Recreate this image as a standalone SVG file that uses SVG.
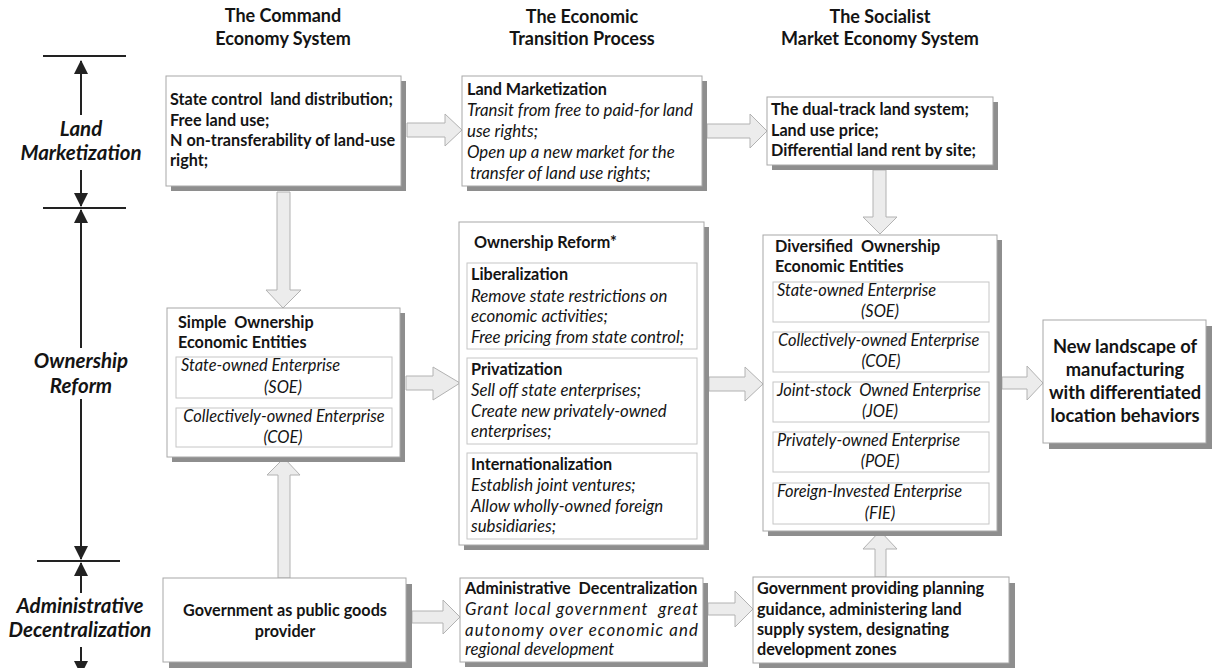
<svg xmlns="http://www.w3.org/2000/svg" width="1215" height="668" viewBox="0 0 1215 668">
<defs>
<style>
text{font-family:Lato,"Liberation Sans",sans-serif;fill:#141414}
.h{font-weight:700;font-size:18px;text-anchor:middle}
.b{font-weight:700;font-size:16.2px}
.i{font-style:italic;font-weight:400;font-size:16.8px}
.s{font-size:16.4px}
.ax{font-weight:700;font-style:italic;font-size:20.5px;text-anchor:middle}
.nl{font-weight:700;font-size:18.3px;text-anchor:middle}
.m{text-anchor:middle}
.shadow{fill:#8e8e8e}
.box{fill:#fff;stroke:#a8a8a8;stroke-width:1}
.inner{fill:#fff;stroke:#c6c6c6;stroke-width:1}
.flow{fill:#ececec;stroke:#b2b2b2;stroke-width:1}
.axl{stroke:#222;stroke-width:2;fill:none}
</style>
<marker id="ah" markerUnits="userSpaceOnUse" markerWidth="14" markerHeight="14" refX="13" refY="7" orient="auto">
<path d="M0,0 L14,7 L0,14 z" fill="#222"/>
</marker>
</defs>
<rect width="1215" height="668" fill="#fff"/>

<g id="headers">
<text class="h" x="283" y="22">The Command</text>
<text class="h" x="283" y="45">Economy System</text>
<text class="h" x="582" y="23">The Economic</text>
<text class="h" x="582" y="45">Transition Process</text>
<text class="h" x="880" y="23">The Socialist</text>
<text class="h" x="880" y="45">Market Economy System</text>
</g>

<g id="axis">
<line class="axl" x1="43" y1="56" x2="126" y2="56"/>
<line class="axl" x1="81" y1="115" x2="81" y2="61" marker-end="url(#ah)"/>
<text class="ax" x="81" y="136">Land</text>
<text class="ax" x="81" y="160">Marketization</text>
<line class="axl" x1="81" y1="170" x2="81" y2="206" marker-end="url(#ah)"/>
<line class="axl" x1="43" y1="208" x2="126" y2="208"/>
<line class="axl" x1="81" y1="348" x2="81" y2="210" marker-end="url(#ah)"/>
<text class="ax" x="81" y="368">Ownership</text>
<text class="ax" x="81" y="393">Reform</text>
<line class="axl" x1="81" y1="399" x2="81" y2="559" marker-end="url(#ah)"/>
<line class="axl" x1="37" y1="561" x2="120" y2="561"/>
<line class="axl" x1="81" y1="593" x2="81" y2="563" marker-end="url(#ah)"/>
<text class="ax" x="80" y="613">Administrative</text>
<text class="ax" x="80" y="637">Decentralization</text>
<line class="axl" x1="81" y1="647" x2="81" y2="674" marker-end="url(#ah)"/>
</g>

<g id="connectors">
<polygon class="flow" points="407,123 445,123 445,114 462,130 445,146 445,137 407,137"/>
<polygon class="flow" points="707,124 750,124 750,114 767,131 750,148 750,138 707,138"/>
<polygon class="flow" points="873,170 886,170 886,217 897,217 880,234 863,217 873,217"/>
<polygon class="flow" points="277,192 290,192 290,290 301,290 283,308 266,290 277,290"/>
<polygon class="flow" points="406,376 433,376 433,367 460,383 433,400 433,390 406,390"/>
<polygon class="flow" points="709,377 745,377 745,367 763,384 745,401 745,391 709,391"/>
<polygon class="flow" points="1002,377 1027,377 1027,366 1043,383 1027,400 1027,389 1002,389"/>
<polygon class="flow" points="278,578 290,578 290,475 300,475 284,458 267,475 278,475"/>
<polygon class="flow" points="412,611 443,611 443,600 460,617 443,634 443,623 412,623"/>
<polygon class="flow" points="708,603 735,603 735,591 753,609 735,627 735,615 708,615"/>
<polygon class="flow" points="875,577 886,577 886,549 897,549 880,531 863,549 875,549"/>
</g>

<g id="command-land">
<rect class="shadow" x="171" y="81" width="235" height="110"/>
<rect class="box" x="166" y="76" width="235" height="110"/>
<text class="b" x="170" y="105" xml:space="preserve">State control  land distribution;</text>
<text class="b" x="170" y="126">Free land use;</text>
<text class="b" x="170" y="146">N on-transferability of land-use</text>
<text class="b" x="170" y="166">right;</text>
</g>

<g id="transition-land">
<rect class="shadow" x="467" y="81" width="240" height="110"/>
<rect class="box" x="462" y="76" width="240" height="110"/>
<text class="b" x="467" y="95">Land Marketization</text>
<text class="i" x="467" y="116">Transit from free to paid-for land</text>
<text class="i" x="467" y="137">use rights;</text>
<text class="i" x="467" y="158">Open up a new market for the</text>
<text class="i" x="470" y="179">transfer of land use rights;</text>
</g>

<g id="market-land">
<rect class="shadow" x="772" y="102" width="226" height="68"/>
<rect class="box" x="767" y="97" width="226" height="68"/>
<text class="b" x="771" y="115">The dual-track land system;</text>
<text class="b" x="771" y="136">Land use price;</text>
<text class="b" x="771" y="156">Differential land rent by site;</text>
</g>

<g id="simple-ownership">
<rect class="shadow" x="172" y="313" width="233" height="149"/>
<rect class="box" x="167" y="308" width="233" height="149"/>
<text class="b" x="178" y="328" xml:space="preserve">Simple  Ownership</text>
<text class="b" x="178" y="348">Economic Entities</text>
<rect class="inner" x="176" y="357" width="216" height="41"/>
<text class="i s" x="181" y="371">State-owned Enterprise</text>
<text class="i s m" x="283" y="393">(SOE)</text>
<rect class="inner" x="176" y="408" width="216" height="39"/>
<text class="i s m" x="284" y="422">Collectively-owned Enterprise</text>
<text class="i s m" x="283" y="443">(COE)</text>
</g>

<g id="ownership-reform">
<rect class="shadow" x="464" y="227" width="245" height="323"/>
<rect class="box" x="459" y="222" width="245" height="323"/>
<text class="b" x="474" y="248">Ownership Reform*</text>
<rect class="inner" x="467" y="263" width="230" height="86"/>
<text class="b" x="471" y="280">Liberalization</text>
<text class="i" x="471" y="302">Remove state restrictions on</text>
<text class="i" x="471" y="322">economic activities;</text>
<text class="i" x="471" y="343">Free pricing from state control;</text>
<rect class="inner" x="467" y="358" width="230" height="86"/>
<text class="b" x="471" y="375">Privatization</text>
<text class="i" x="471" y="396">Sell off state enterprises;</text>
<text class="i" x="471" y="417">Create new privately-owned</text>
<text class="i" x="471" y="437">enterprises;</text>
<rect class="inner" x="467" y="453" width="230" height="86"/>
<text class="b" x="471" y="470">Internationalization</text>
<text class="i" x="471" y="491">Establish joint ventures;</text>
<text class="i" x="471" y="512">Allow wholly-owned foreign</text>
<text class="i" x="471" y="532">subsidiaries;</text>
</g>

<g id="diversified-ownership">
<rect class="shadow" x="768" y="240" width="234" height="296"/>
<rect class="box" x="763" y="235" width="234" height="296"/>
<text class="b" x="775" y="252" xml:space="preserve">Diversified  Ownership</text>
<text class="b" x="775" y="272">Economic Entities</text>
<rect class="inner" x="773" y="282" width="216" height="40"/>
<text class="i s" x="777" y="296">State-owned Enterprise</text>
<text class="i s m" x="880" y="317">(SOE)</text>
<rect class="inner" x="773" y="332" width="216" height="40"/>
<text class="i s" x="778" y="346">Collectively-owned Enterprise</text>
<text class="i s m" x="881" y="367">(COE)</text>
<rect class="inner" x="773" y="382" width="216" height="40"/>
<text class="i s" x="777" y="396" xml:space="preserve">Joint-stock  Owned Enterprise</text>
<text class="i s m" x="880" y="417">(JOE)</text>
<rect class="inner" x="773" y="432" width="216" height="40"/>
<text class="i s" x="777" y="446">Privately-owned Enterprise</text>
<text class="i s m" x="880" y="467">(POE)</text>
<rect class="inner" x="773" y="483" width="216" height="41"/>
<text class="i s" x="777" y="497">Foreign-Invested Enterprise</text>
<text class="i s m" x="880" y="519">(FIE)</text>
</g>

<g id="new-landscape">
<rect class="shadow" x="1049" y="326" width="163" height="123"/>
<rect class="box" x="1043" y="320" width="163" height="123"/>
<text class="nl" x="1125" y="353">New landscape of</text>
<text class="nl" x="1125" y="376">manufacturing</text>
<text class="nl" x="1125" y="399">with differentiated</text>
<text class="nl" x="1125" y="422">location behaviors</text>
</g>

<g id="government-public">
<rect class="shadow" x="169" y="584" width="243" height="84"/>
<rect class="box" x="163" y="578" width="243" height="84"/>
<text class="b m" x="285" y="616">Government as public goods</text>
<text class="b m" x="285" y="637">provider</text>
</g>

<g id="admin-decentralization">
<rect class="shadow" x="465" y="583" width="243" height="84"/>
<rect class="box" x="460" y="578" width="243" height="84"/>
<text class="b" x="465" y="594" xml:space="preserve">Administrative  Decentralization</text>
<text class="i" x="465" y="615" textLength="233" lengthAdjust="spacing" xml:space="preserve">Grant local government  great</text>
<text class="i" x="465" y="636" textLength="233" lengthAdjust="spacing">autonomy over economic and</text>
<text class="i" x="465" y="655">regional development</text>
</g>

<g id="government-planning">
<rect class="shadow" x="759" y="583" width="256" height="86"/>
<rect class="box" x="753" y="577" width="256" height="86"/>
<text class="b" x="757" y="594">Government providing planning</text>
<text class="b" x="757" y="615">guidance, administering land</text>
<text class="b" x="757" y="635">supply system, designating</text>
<text class="b" x="757" y="655">development zones</text>
</g>
</svg>
